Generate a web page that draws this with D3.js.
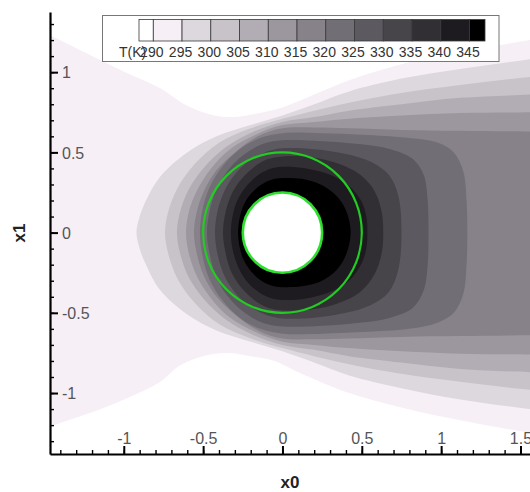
<!DOCTYPE html>
<html>
<head>
<meta charset="utf-8">
<script src="https://cdn.jsdelivr.net/npm/d3@7"></script>
<style>
  body { margin: 0; background: #fff; }
  svg { display: block; font-family: "Liberation Sans", Arial, sans-serif; }
</style>
</head>
<body>
<svg id="chart" width="530" height="492"></svg>
<script>
// temperature levels (K) and band colours (index 0 = below 290)
const levels = [290, 295, 300, 305, 310, 315, 320, 325, 330, 335, 340, 345];
const bandColors = ["#ffffff", "#f6eff6", "#ddd7de", "#c8c2c9", "#b2adb4", "#9c979e",
  "#87828a", "#726e75", "#5c5960", "#47444a", "#322f34", "#1d1b1f", "#000000"];
const xTicks = [-1, -0.5, 0, 0.5, 1, 1.5];
const yTicks = [-1, -0.5, 0, 0.5, 1];
const cylinderRadius = 0.25;
const ringRadius = 0.5;

// isotherm outlines (x0, x1)
const t290 = [[-2.1,1.5],[-1.8,1.38],[-1.465,1.23],[-1.2,1.10],[-0.95,0.98],[-0.77,0.90],[-0.6,0.79],[-0.45,0.735],[-0.33,0.72],[-0.2,0.735],[0,0.78],[0.2,0.86],[0.42,0.95],[0.75,1.05],[1.12,1.13],[1.56,1.2],[1.8,1.25],[2.1,1.3],
  [2.1,-1.35],[1.8,-1.3],[1.56,-1.25],[1.12,-1.17],[0.75,-1.09],[0.42,-1.0],[0.1,-0.87],[-0.05,-0.8],[-0.2,-0.77],[-0.35,-0.75],[-0.5,-0.77],[-0.65,-0.83],[-0.77,-0.93],[-0.95,-1.02],[-1.2,-1.12],[-1.465,-1.21],[-1.8,-1.36],[-2.1,-1.5]];
const t295 = [[-0.92,0],[-0.9,0.1],[-0.86,0.2],[-0.77,0.35],[-0.6,0.5],[-0.415,0.60],[-0.2,0.67],[0,0.73],[0.2,0.80],[0.42,0.88],[0.75,0.96],[1.12,1.02],[1.56,1.08],[1.8,1.11],[2.1,1.14],
  [2.1,-1.16],[1.8,-1.13],[1.56,-1.10],[1.12,-1.04],[0.75,-0.97],[0.42,-0.89],[0.2,-0.81],[0,-0.74],[-0.2,-0.68],[-0.415,-0.61],[-0.6,-0.51],[-0.77,-0.36],[-0.86,-0.2],[-0.9,-0.1]];
const t300 = [[-0.74,0],[-0.72,0.13],[-0.66,0.28],[-0.55,0.43],[-0.40,0.56],[-0.2,0.65],[0,0.71],[0.2,0.76],[0.42,0.81],[0.75,0.87],[1.12,0.92],[1.56,0.97],[1.8,0.99],[2.1,1.01],
  [2.1,-1.02],[1.8,-1.0],[1.56,-0.98],[1.12,-0.93],[0.75,-0.88],[0.42,-0.82],[0.2,-0.77],[0,-0.72],[-0.2,-0.66],[-0.40,-0.57],[-0.55,-0.44],[-0.66,-0.29],[-0.72,-0.13]];
const t305 = [[-0.665,0],[-0.645,0.13],[-0.59,0.27],[-0.49,0.41],[-0.36,0.53],[-0.18,0.63],[0,0.69],[0.2,0.72],[0.42,0.76],[0.75,0.80],[1.12,0.84],[1.56,0.86],[1.8,0.87],[2.1,0.88],
  [2.1,-0.89],[1.8,-0.88],[1.56,-0.87],[1.12,-0.85],[0.75,-0.81],[0.42,-0.77],[0.2,-0.73],[0,-0.70],[-0.18,-0.64],[-0.36,-0.54],[-0.49,-0.42],[-0.59,-0.28],[-0.645,-0.13]];
const t310 = [[-0.608,0],[-0.59,0.13],[-0.54,0.26],[-0.45,0.40],[-0.33,0.52],[-0.17,0.61],[0,0.67],[0.2,0.69],[0.42,0.71],[0.75,0.73],[1.12,0.745],[1.56,0.75],[1.8,0.755],[2.1,0.76],
  [2.1,-0.77],[1.8,-0.765],[1.56,-0.76],[1.12,-0.755],[0.75,-0.74],[0.42,-0.72],[0.2,-0.70],[0,-0.68],[-0.17,-0.62],[-0.33,-0.53],[-0.45,-0.41],[-0.54,-0.27],[-0.59,-0.13]];
const t315 = [[-0.558,0],[-0.54,0.13],[-0.495,0.26],[-0.415,0.39],[-0.30,0.50],[-0.155,0.60],[0,0.65],[0.2,0.655],[0.42,0.65],[0.75,0.64],[1.12,0.635],[1.56,0.63],[1.8,0.63],[2.1,0.63],
  [2.1,-0.64],[1.8,-0.64],[1.56,-0.64],[1.12,-0.645],[0.75,-0.65],[0.42,-0.66],[0.2,-0.665],[0,-0.66],[-0.155,-0.61],[-0.30,-0.51],[-0.415,-0.40],[-0.495,-0.27],[-0.54,-0.13]];
const t320 = [[-0.52,0],[-0.505,0.14],[-0.46,0.28],[-0.38,0.41],[-0.27,0.52],[-0.14,0.59],[0,0.62],[0.25,0.62],[0.5,0.61],[0.8,0.59],[0.98,0.56],[1.08,0.50],[1.14,0.38],[1.16,0.2],[1.165,0],
  [1.16,-0.2],[1.14,-0.38],[1.08,-0.50],[0.98,-0.56],[0.8,-0.60],[0.5,-0.62],[0.25,-0.63],[0,-0.63],[-0.14,-0.60],[-0.27,-0.53],[-0.38,-0.42],[-0.46,-0.29],[-0.505,-0.14]];
const t325 = [[-0.476,0],[-0.46,0.13],[-0.42,0.26],[-0.35,0.38],[-0.25,0.48],[-0.13,0.55],[0,0.575],[0.25,0.57],[0.5,0.55],[0.68,0.52],[0.82,0.46],[0.89,0.36],[0.915,0.2],[0.92,0],
  [0.915,-0.2],[0.89,-0.36],[0.82,-0.47],[0.68,-0.53],[0.5,-0.56],[0.25,-0.58],[0,-0.585],[-0.13,-0.56],[-0.25,-0.49],[-0.35,-0.39],[-0.42,-0.27],[-0.46,-0.13]];
const t330 = [[-0.425,0],[-0.41,0.13],[-0.37,0.25],[-0.31,0.35],[-0.22,0.44],[-0.11,0.50],[0,0.525],[0.2,0.52],[0.4,0.49],[0.56,0.44],[0.67,0.36],[0.73,0.23],[0.75,0],
  [0.73,-0.23],[0.67,-0.37],[0.56,-0.45],[0.4,-0.50],[0.2,-0.53],[0,-0.535],[-0.11,-0.51],[-0.22,-0.45],[-0.31,-0.36],[-0.37,-0.26],[-0.41,-0.13]];
const t335 = [[-0.375,0],[-0.36,0.12],[-0.325,0.23],[-0.27,0.32],[-0.19,0.40],[-0.1,0.455],[0,0.475],[0.18,0.47],[0.35,0.43],[0.49,0.36],[0.58,0.26],[0.625,0.13],[0.635,0],
  [0.625,-0.13],[0.58,-0.26],[0.49,-0.37],[0.35,-0.44],[0.18,-0.48],[0,-0.485],[-0.1,-0.465],[-0.19,-0.41],[-0.27,-0.33],[-0.325,-0.24],[-0.36,-0.12]];
const t340 = [[-0.325,0],[-0.315,0.1],[-0.285,0.2],[-0.235,0.28],[-0.165,0.35],[-0.085,0.395],[0,0.41],[0.15,0.4],[0.3,0.36],[0.42,0.29],[0.5,0.19],[0.53,0.09],[0.535,0],
  [0.53,-0.09],[0.5,-0.19],[0.42,-0.30],[0.3,-0.37],[0.15,-0.41],[0,-0.42],[-0.085,-0.405],[-0.165,-0.36],[-0.235,-0.29],[-0.285,-0.2],[-0.315,-0.1]];
const t345 = [[-0.28,0],[-0.27,0.09],[-0.245,0.17],[-0.2,0.24],[-0.14,0.295],[-0.07,0.33],[0,0.34],[0.12,0.335],[0.24,0.30],[0.34,0.23],[0.40,0.14],[0.43,0],
  [0.40,-0.14],[0.34,-0.235],[0.24,-0.305],[0.12,-0.335],[0,-0.34],[-0.07,-0.33],[-0.14,-0.295],[-0.2,-0.24],[-0.245,-0.17],[-0.27,-0.09]];
const isotherms = [t290, t295, t300, t305, t310, t315, t320, t325, t330, t335, t340, t345];

const svg = d3.select("#chart");
const plot = { left: 50, right: 530, top: 12, bottom: 454 };

const x = d3.scaleLinear().domain([-1.465, 1.56]).range([plot.left, plot.right]);
const y = d3.scaleLinear().domain([-1.38, 1.375]).range([plot.bottom, plot.top]);

svg.append("defs").append("clipPath").attr("id", "plot-clip")
  .append("rect")
  .attr("x", plot.left).attr("y", plot.top)
  .attr("width", plot.right - plot.left).attr("height", plot.bottom - plot.top);

const field = svg.append("g").attr("clip-path", "url(#plot-clip)");

const outline = d3.line()
  .x(d => x(d[0]))
  .y(d => y(d[1]))
  .curve(d3.curveCatmullRomClosed.alpha(0.5));

// filled bands, lowest level first
field.selectAll(".band")
  .data(isotherms)
  .enter()
  .append("path")
  .attr("class", "band")
  .attr("d", outline)
  .attr("fill", (d, i) => bandColors[i + 1]);

// cylinder and the green circles
field.append("ellipse")
  .attr("cx", x(0)).attr("cy", y(0))
  .attr("rx", x(ringRadius) - x(0)).attr("ry", y(0) - y(ringRadius))
  .attr("fill", "none")
  .attr("stroke", "#22cc22")
  .attr("stroke-width", 2.2);

field.append("ellipse")
  .attr("cx", x(0)).attr("cy", y(0))
  .attr("rx", x(cylinderRadius) - x(0)).attr("ry", y(0) - y(cylinderRadius))
  .attr("fill", "#ffffff")
  .attr("stroke", "#2ee02e")
  .attr("stroke-width", 2.6);

// axes (ticks point into the plot, labels inside)
const xMinor = svg.append("g")
  .attr("transform", `translate(0,${plot.bottom})`)
  .call(d3.axisBottom(x).tickValues(x.ticks(30)).tickSize(-4).tickSizeOuter(0).tickFormat(""));
xMinor.select(".domain").remove();
xMinor.selectAll("line").attr("stroke", "#000").attr("stroke-width", 1.4);

const xAxis = svg.append("g")
  .attr("transform", `translate(0,${plot.bottom})`)
  .call(d3.axisBottom(x).tickValues(xTicks).tickSize(-8).tickSizeOuter(0).tickFormat(d => String(d)));
xAxis.select(".domain").attr("stroke", "#000").attr("stroke-width", 2.2);
xAxis.selectAll("line").attr("stroke", "#000").attr("stroke-width", 2);
xAxis.selectAll("text")
  .attr("y", -10).attr("dy", 0)
  .attr("fill", "#555")
  .style("font-size", "16px")
  .style("font-family", "'Liberation Sans', Arial, sans-serif");

const yMinor = svg.append("g")
  .attr("transform", `translate(${plot.left},0)`)
  .call(d3.axisLeft(y).tickValues(y.ticks(30)).tickSize(-4).tickSizeOuter(0).tickFormat(""));
yMinor.select(".domain").remove();
yMinor.selectAll("line").attr("stroke", "#000").attr("stroke-width", 1.4);

const yAxis = svg.append("g")
  .attr("transform", `translate(${plot.left},0)`)
  .call(d3.axisLeft(y).tickValues(yTicks).tickSize(-8).tickSizeOuter(0).tickFormat(d => String(d)));
yAxis.select(".domain").attr("stroke", "#000").attr("stroke-width", 2.2);
yAxis.selectAll("line").attr("stroke", "#000").attr("stroke-width", 2);
yAxis.selectAll("text")
  .attr("x", 12).attr("dy", "0.36em")
  .attr("text-anchor", "start")
  .attr("fill", "#555")
  .style("font-size", "16px")
  .style("font-family", "'Liberation Sans', Arial, sans-serif");

// axis titles
svg.append("text")
  .attr("x", (plot.left + plot.right) / 2)
  .attr("y", 488)
  .attr("text-anchor", "middle")
  .style("font-size", "17px")
  .style("font-weight", "bold")
  .attr("fill", "#222")
  .text("x0");

svg.append("text")
  .attr("transform", `translate(25,${(plot.top + plot.bottom) / 2}) rotate(-90)`)
  .attr("text-anchor", "middle")
  .style("font-size", "17px")
  .style("font-weight", "bold")
  .attr("fill", "#222")
  .text("x1");

// legend
const legend = svg.append("g");
legend.append("rect")
  .attr("x", 102.5).attr("y", 15.5)
  .attr("width", 396.5).attr("height", 46)
  .attr("fill", "#fff")
  .attr("stroke", "#777")
  .attr("stroke-width", 1);

const legendX = d3.scaleLinear().domain([290, 345]).range([153.3, 469.5]);
const boxEdges = [legendX(290) - 14.3].concat(levels.map(legendX), [legendX(345) + 15.5]);

legend.selectAll(".legend-box")
  .data(bandColors)
  .enter()
  .append("rect")
  .attr("class", "legend-box")
  .attr("x", (d, i) => boxEdges[i])
  .attr("y", 19.5)
  .attr("width", (d, i) => boxEdges[i + 1] - boxEdges[i])
  .attr("height", 21.5)
  .attr("fill", d => d)
  .attr("stroke", "#3a3a3a")
  .attr("stroke-width", 0.8);

legend.selectAll(".legend-label")
  .data(levels)
  .enter()
  .append("text")
  .attr("class", "legend-label")
  .attr("x", d => legendX(d) - 1.5)
  .attr("y", 57)
  .attr("text-anchor", "middle")
  .attr("fill", "#333")
  .style("font-size", "14px")
  .text(d => d);

legend.append("text")
  .attr("x", 119)
  .attr("y", 57)
  .attr("fill", "#333")
  .style("font-size", "14px")
  .text("T(K)");
</script>
</body>
</html>
